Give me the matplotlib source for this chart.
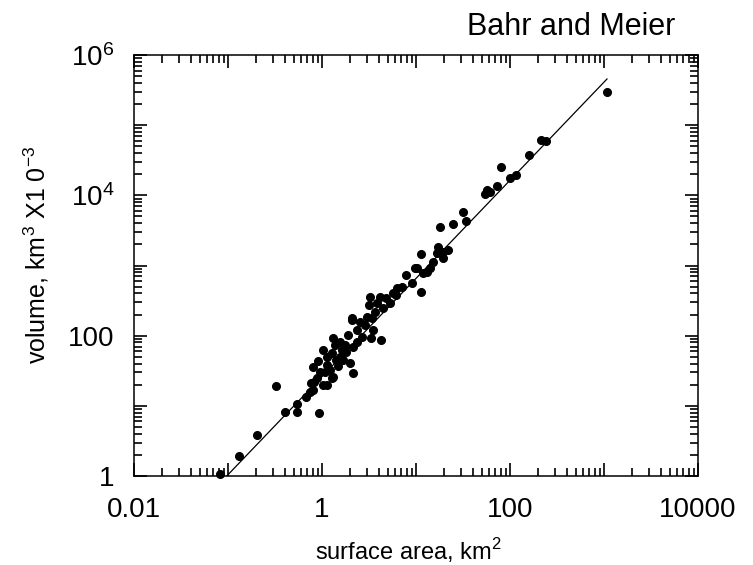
import numpy as np
import matplotlib
matplotlib.use('Agg')
import matplotlib.pyplot as plt
from matplotlib.ticker import FixedLocator, FuncFormatter, NullFormatter

plt.rcParams['font.family'] = ['Liberation Sans', 'DejaVu Sans']
plt.rcParams['mathtext.fontset'] = 'custom'
plt.rcParams['mathtext.rm'] = 'Liberation Sans'

# glacier surface area (km2) and volume (km3 x 1e-3)
area = [0.082, 0.131, 0.204, 0.325, 0.404, 0.542, 0.542, 0.929, 0.676, 0.745,
        0.80, 0.82, 0.885, 1.03, 1.13, 1.28, 1.31, 0.80, 0.906, 1.03,
        1.13, 1.13, 1.28, 1.41, 1.55, 1.67, 1.31, 1.55, 1.63, 1.76,
        2.08, 1.99, 2.14, 1.89, 2.14, 2.36, 2.66, 2.54, 3.01, 3.40,
        3.49, 3.32, 4.24, 3.24, 3.16, 3.85, 4.14, 4.46, 5.29, 5.69,
        6.28, 7.10, 7.83, 9.06, 11.3, 10.3, 11.9, 13.1, 11.3, 19.4,
        21.9, 19.4, 18.0, 24.8, 31.6, 34.0, 54.2, 56.9, 61.2, 72.8,
        80.2, 100, 116, 159, 214, 242, 1076, 17.1, 9.75, 2.08,
        1.22, 0.953, 1.37, 2.36, 2.86, 3.66, 4.80, 6.12, 15.2, 14.1,
        16.7, 0.764, 1.08, 1.80, 1.48]
volume = [1.07, 1.93, 3.84, 19.2, 8.17, 10.6, 8.17, 7.9, 13.4, 15.7,
          16.8, 21.9, 24.9, 19.8, 19.8, 24.9, 25.8, 35.8, 43.5, 62.5,
          49.7, 38.2, 56.6, 45, 49.7, 45, 92.6, 81.2, 62.5, 73.6,
          167, 40.8, 29.4, 102, 68.9, 120, 95.7, 157, 185, 179,
          120, 92.6, 86.7, 355, 273, 292, 355, 248, 292, 405,
          478, 494, 732, 563, 419, 921, 782, 807, 1460, 1560,
          1660, 1280, 3540, 3900, 5780, 4300, 10400, 11900, 11100, 13600,
          25300, 17700, 19500, 37600, 61400, 59400, 297000, 1840, 921, 179,
          32.4, 30.3, 73.6, 81.2, 142, 217, 344, 380, 1120, 921,
          1510, 21.2, 30.3, 58.5, 37]

# end points of the fitted volume-area line
fit_area = [0.097, 1076]
fit_volume = [1.0, 455000]

xtick_text = {0.01: '0.01', 1: '1', 100: '100', 10000: '10000'}
ytick_text = {1: '1', 100: '100', 1e4: r'$\mathregular{10^4}$', 1e6: r'$\mathregular{10^6}$'}

fig = plt.figure(figsize=(7.53, 5.65), dpi=100)
ax = fig.add_axes([134/753, 1-476/565, 564/753, 421/565])

ax.plot(fit_area, fit_volume, color='k', lw=0.9)
ax.plot(area, volume, 'o', color='k', ms=5.5, mec='k', clip_on=False)

ax.set_xscale('log')
ax.set_yscale('log')
ax.set_xlim(0.01, 10000)
ax.set_ylim(1, 1e6)

def log_ticks(lo, hi):
    decades = [10.0**e for e in range(lo, hi + 1)]
    between = [m * 10.0**e for e in range(lo, hi) for m in range(2, 10)]
    return decades, between

def tick_text(labels):
    def fmt(v, pos):
        for k, t in labels.items():
            if abs(np.log10(v) - np.log10(k)) < 1e-6:
                return t
        return ''
    return FuncFormatter(fmt)

x_dec, x_min = log_ticks(-2, 4)
y_dec, y_min = log_ticks(0, 6)
ax.xaxis.set_major_locator(FixedLocator(x_dec))
ax.xaxis.set_minor_locator(FixedLocator(x_min))
ax.yaxis.set_major_locator(FixedLocator(y_dec))
ax.yaxis.set_minor_locator(FixedLocator(y_min))
ax.xaxis.set_major_formatter(tick_text(xtick_text))
ax.yaxis.set_major_formatter(tick_text(ytick_text))
ax.xaxis.set_minor_formatter(NullFormatter())
ax.yaxis.set_minor_formatter(NullFormatter())

ax.tick_params(which='major', direction='in', top=True, right=True,
               length=9.5, width=1.2, color='k')
ax.tick_params(which='minor', direction='in', top=True, right=True,
               length=5.5, width=1.2, color='k')
ax.tick_params(axis='x', which='major', labelsize=20, pad=15)
ax.tick_params(axis='y', which='major', labelsize=20, pad=14)
for s in ax.spines.values():
    s.set_linewidth(1.1)

fig.text(675/753, 1-35/565, 'Bahr and Meier', ha='right', va='baseline', fontsize=22)
fig.text(408/753, 1-560/565, r'surface area, km$^2$', ha='center', va='baseline',
         fontsize=17)
fig.text(36/753, 1-255/565, r'volume, km$^3$ X1 0$^{-3}$', ha='center', va='center',
         rotation=90, fontsize=18)

fig.savefig('out.png', dpi=100)
